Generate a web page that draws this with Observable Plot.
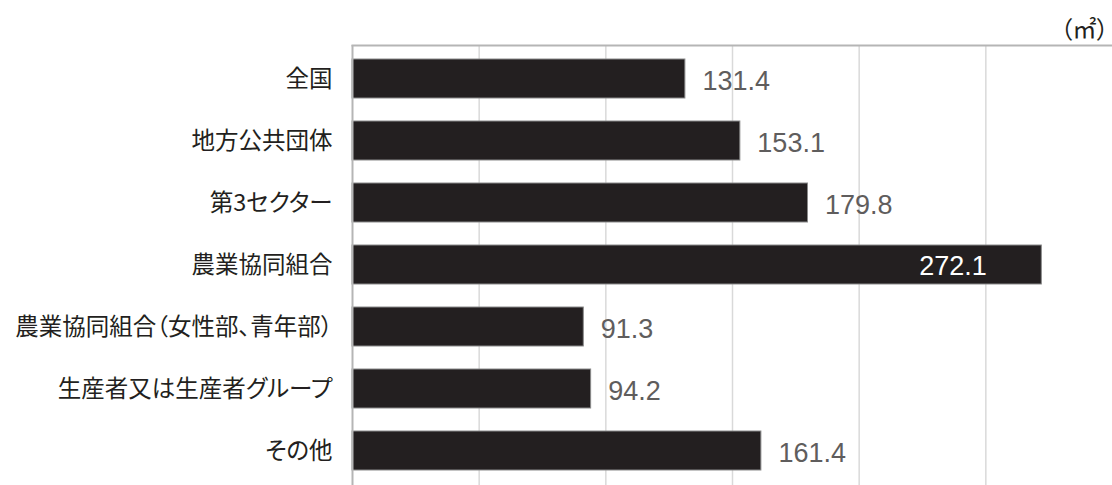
<!DOCTYPE html>
<html><head><meta charset="utf-8">
<script src="https://cdn.jsdelivr.net/npm/d3@7"></script>
<script src="https://cdn.jsdelivr.net/npm/@observablehq/plot@0.6"></script>
<style>
body{margin:0;background:#fff;}
svg{font-family:"Noto Sans CJK JP",sans-serif;font-feature-settings:"palt" 1;}
</style>
</head><body><div id="chart"></div>
<script>
const categories = ["全国","地方公共団体","第3セクター","農業協同組合","農業協同組合（女性部、青年部）","生産者又は生産者グループ","その他"];
const values = [131.4,153.1,179.8,272.1,91.3,94.2,161.4];
const gridTicks = [50,100,150,200,250];
const unitLabel = "（㎡）";
const insideLabels = ["農業協同組合"];

const data = categories.map((c,i)=>({cat:c, v:values[i]}));
const outside = data.filter(d=>!insideLabels.includes(d.cat));
const inside = data.filter(d=>insideLabels.includes(d.cat));

const chart = Plot.plot({
  width:1112, height:485,
  marginLeft:352, marginRight:0, marginTop:45, marginBottom:0,
  x:{domain:[0,300], axis:null},
  y:{domain:categories, paddingInner:0.37, paddingOuter:0.19, label:null},
  marks:[
    Plot.gridX(gridTicks,{stroke:"#d9d9d9", strokeOpacity:1, strokeWidth:1.5}),
    Plot.frame({anchor:"top", stroke:"#b5b5b5", strokeWidth:2}),
    Plot.barX(data,{x:"v", y:"cat", fill:"#231f20", stroke:"#8a8a8a", strokeWidth:1}),
    Plot.ruleX([0],{stroke:"#b5b5b5", strokeWidth:2}),
    Plot.axisY({tickSize:0, tickPadding:20, fontSize:23.5, color:"#231f20", label:null}),
    Plot.text(outside,{x:"v", y:"cat", text:d=>d.v.toFixed(1), textAnchor:"start", dx:17, dy:2, fontSize:27, fill:"#5f5d5d", fontFamily:"Liberation Sans"}),
    Plot.text(inside,{x:"v", y:"cat", text:d=>d.v.toFixed(1), textAnchor:"end", dx:-55, dy:1, fontSize:27, fill:"#ffffff", fontFamily:"Liberation Sans"}),
    Plot.text([unitLabel],{frameAnchor:"top-right", lineAnchor:"middle", text:d=>d, dy:-15, dx:-4, fontSize:24, fill:"#231f20"})
  ]
});
document.getElementById("chart").appendChild(chart);
</script>
</body></html>
